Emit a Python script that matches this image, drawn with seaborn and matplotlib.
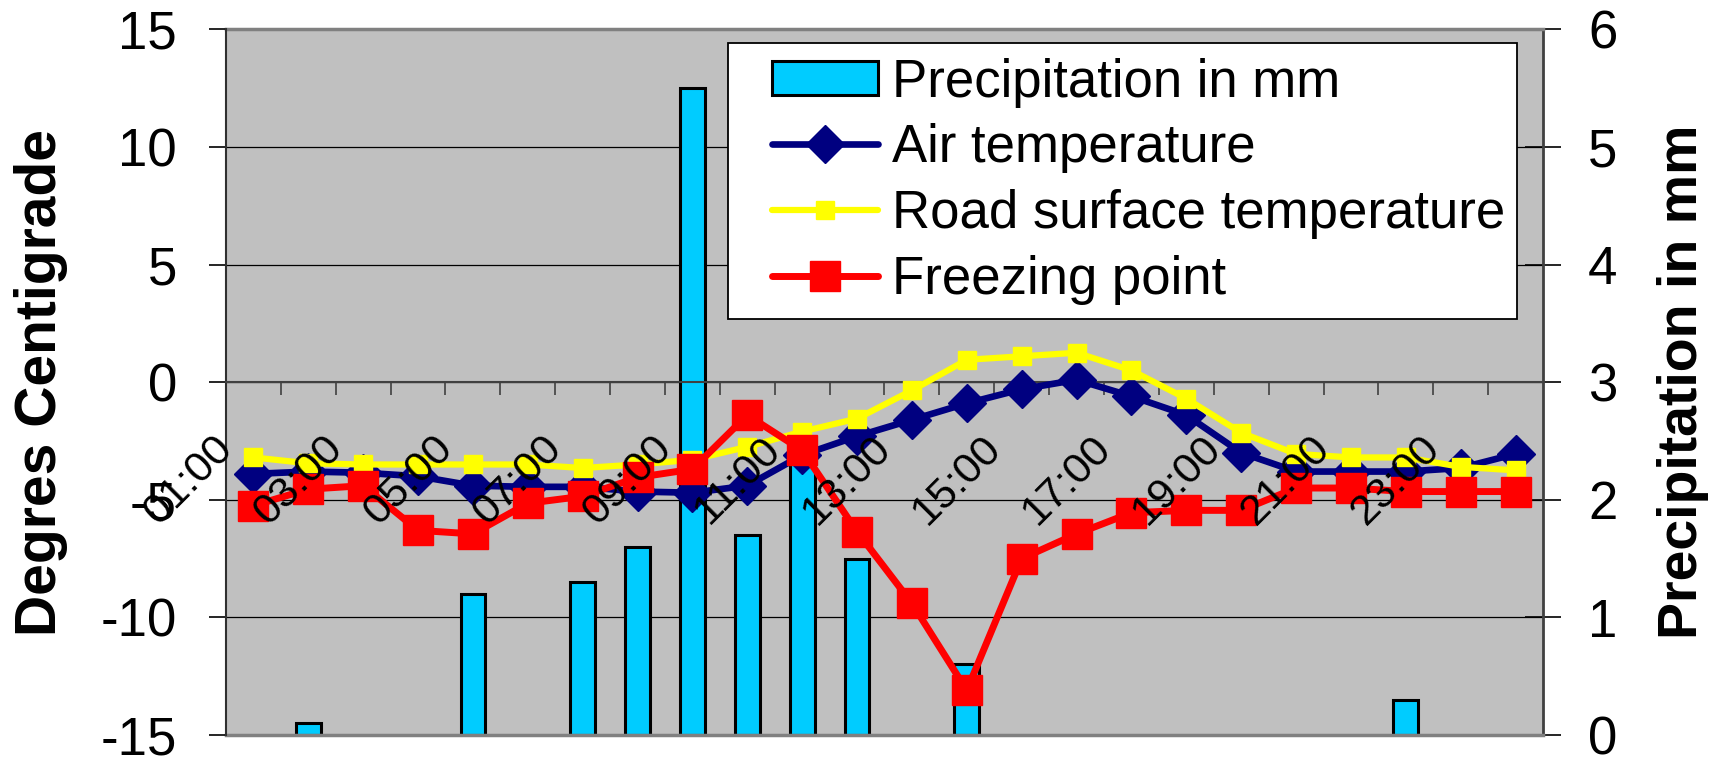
import numpy as np
import pandas as pd
import matplotlib
matplotlib.use("Agg")
import matplotlib.pyplot as plt
import seaborn as sns
from matplotlib.patches import Patch, Rectangle
from matplotlib.lines import Line2D

# ---------------- data ----------------
hours = ["01:00", "02:00", "03:00", "04:00", "05:00", "06:00", "07:00", "08:00",
         "09:00", "10:00", "11:00", "12:00", "13:00", "14:00", "15:00", "16:00",
         "17:00", "18:00", "19:00", "20:00", "21:00", "22:00", "23:00", "24:00"]
precip = [0.0, 0.1, 0.0, 0.0, 1.2, 0.0, 1.3, 1.6, 5.5, 1.7, 2.4, 1.5,
          0.0, 0.6, 0.0, 0.0, 0.0, 0.0, 0.0, 0.0, 0.0, 0.3, 0.0, 0.0]
air_temp = [-3.9, -3.8, -3.85, -4.0, -4.4, -4.45, -4.45, -4.65, -4.7, -4.4, -3.1, -2.3,
            -1.6, -0.9, -0.3, 0.1, -0.6, -1.4, -3.0, -3.8, -3.8, -3.8, -3.65, -3.05]
road_temp = [-3.2, -3.45, -3.5, -3.5, -3.5, -3.5, -3.65, -3.5, -3.3, -2.75, -2.1, -1.55,
             -0.35, 0.95, 1.1, 1.25, 0.5, -0.7, -2.15, -3.05, -3.2, -3.2, -3.6, -3.75]
freezing = [-5.25, -4.55, -4.4, -6.3, -6.45, -5.15, -4.85, -4.05, -3.7, -1.4, -2.9, -6.35,
            -9.4, -13.1, -7.5, -6.45, -5.55, -5.45, -5.45, -4.5, -4.5, -4.65, -4.65, -4.65]
temp_ticks = [-15, -10, -5, 0, 5, 10, 15]
precip_ticks = [0, 1, 2, 3, 4, 5, 6]
series_names = ["Precipitation in mm", "Air temperature",
                "Road surface temperature", "Freezing point"]

df = pd.DataFrame({"hour": hours, "pos": np.arange(len(hours)), "precip": precip,
                   "air": air_temp, "road": road_temp, "freeze": freezing})

# ---------------- style ----------------
sns.set_theme(style="white")
plt.rcParams["font.family"] = ["Liberation Sans", "DejaVu Sans"]
plt.rcParams["axes.unicode_minus"] = False
for k in ["text.color", "axes.labelcolor", "xtick.color", "ytick.color"]:
    plt.rcParams[k] = "black"

BG = "#C0C0C0"
BAR = "#00CCFF"
NAVY = "#000080"
YEL = "#FFFF00"
RED = "#FF0000"

fig = plt.figure(figsize=(17.25, 7.59), dpi=100)
ax = fig.add_axes([0.1310, 0.0316, 0.7635, 0.9298])
ax2 = ax.twinx()
ax.set_zorder(2)
ax2.set_zorder(1)
ax.patch.set_visible(False)
ax2.patch.set_visible(True)
ax2.patch.set_facecolor(BG)

# bars on secondary axis
sns.barplot(data=df, x="hour", y="precip", ax=ax2, color=BAR, saturation=1,
            edgecolor="black", linewidth=2.2, width=0.45, errorbar=None)
for p in ax2.patches:
    if p.get_height() == 0:
        p.set_visible(False)

# lines on primary axis
air_style = dict(color=NAVY, lw=4.8, marker="D", markersize=19,
                 markeredgecolor=NAVY, markeredgewidth=1)
road_style = dict(color=YEL, lw=4.5, marker="s", markersize=13.5,
                  markeredgecolor=YEL, markeredgewidth=1)
freeze_style = dict(color=RED, lw=5.0, marker="s", markersize=21.5,
                    markeredgecolor=RED, markeredgewidth=1)
sns.lineplot(data=df, x="pos", y="air", ax=ax, zorder=3, **air_style)
sns.lineplot(data=df, x="pos", y="road", ax=ax, zorder=4, **road_style)
sns.lineplot(data=df, x="pos", y="freeze", ax=ax, zorder=5, **freeze_style)

n = len(hours)
ax.set_xlim(-0.5, n - 0.5)
ax.set_ylim(temp_ticks[0], temp_ticks[-1])
ax.set_yticks(temp_ticks)
ax2.set_ylim(precip_ticks[0], precip_ticks[-1])
ax2.set_yticks(precip_ticks)
ax2.set_xlim(-0.5, n - 0.5)

# gridlines under the bars
ax2.set_axisbelow(True)
ax2.yaxis.grid(True, color="black", lw=0.9)
ax.grid(False)
ax2.xaxis.grid(False)

# category axis at y = 0, ticks at category boundaries
ax.spines["bottom"].set_position(("data", 0))
ax.spines["bottom"].set_color("#404040")
ax.spines["bottom"].set_linewidth(1.5)
ax.spines["top"].set_visible(False)
ax.spines["right"].set_visible(False)
ax.spines["left"].set_color("#303030")
ax.spines["left"].set_linewidth(1.5)
ax.set_xticks(np.arange(0.5, n - 1, 1.0))
ax.set_xticklabels([])
ax.tick_params(axis="x", direction="out", length=9.5, width=1.2, color="#404040",
               bottom=True, labelbottom=False)
ax.set_xlabel("")

ax2.spines["left"].set_visible(False)
ax2.spines["top"].set_color("#808080")
ax2.spines["top"].set_linewidth(2.5)
ax2.spines["bottom"].set_color("#808080")
ax2.spines["bottom"].set_linewidth(2.5)
ax2.spines["right"].set_color("#404040")
ax2.spines["right"].set_linewidth(2)
ax2.set_xlabel("")

ax.tick_params(axis="y", direction="out", length=12.5, width=1.2, color="black",
               pad=22.8, labelsize=38, left=True)
ax2.tick_params(axis="y", direction="inout", length=26, width=1.2, color="black",
                pad=19.4, labelsize=38, right=True)

# rotated hour labels hanging below the zero line
for i in range(0, n, 2):
    ax.text(i - 1.18, -4.17, hours[i], rotation=45, rotation_mode="anchor",
            ha="center", va="center", fontsize=31, color="black",
            zorder=10, clip_on=False)

# axis titles
ax.set_ylabel("Degres Centigrade", fontsize=41, fontweight="bold")
ax.yaxis.set_label_coords(-0.1405, 0.5)
ax.yaxis.label.set_va("center")
ax2.set_ylabel("Precipitation in mm", fontsize=40, fontweight="bold")
ax2.yaxis.set_label_coords(1.106, 0.5)
ax2.yaxis.label.set_va("center")

# legend
frame = Rectangle((0.3812, 0.5895), 0.599, 0.391, transform=ax.transAxes,
                  facecolor="white", edgecolor="black", lw=1.3, zorder=6,
                  clip_on=False)
ax.add_patch(frame)
handles = [
    Patch(facecolor=BAR, edgecolor="black", lw=2.2),
    Line2D([], [], **air_style),
    Line2D([], [], **road_style),
    Line2D([], [], **freeze_style),
]
leg = ax.legend(handles, series_names, loc="upper left",
                bbox_to_anchor=(0.4146, 0.960), bbox_transform=ax.transAxes,
                frameon=False, fontsize=38, borderpad=0, borderaxespad=0,
                handlelength=2.0, handleheight=0.63, handletextpad=0.27,
                labelspacing=0.30)
leg.set_zorder(7)

fig.savefig("out.png", dpi=100)
